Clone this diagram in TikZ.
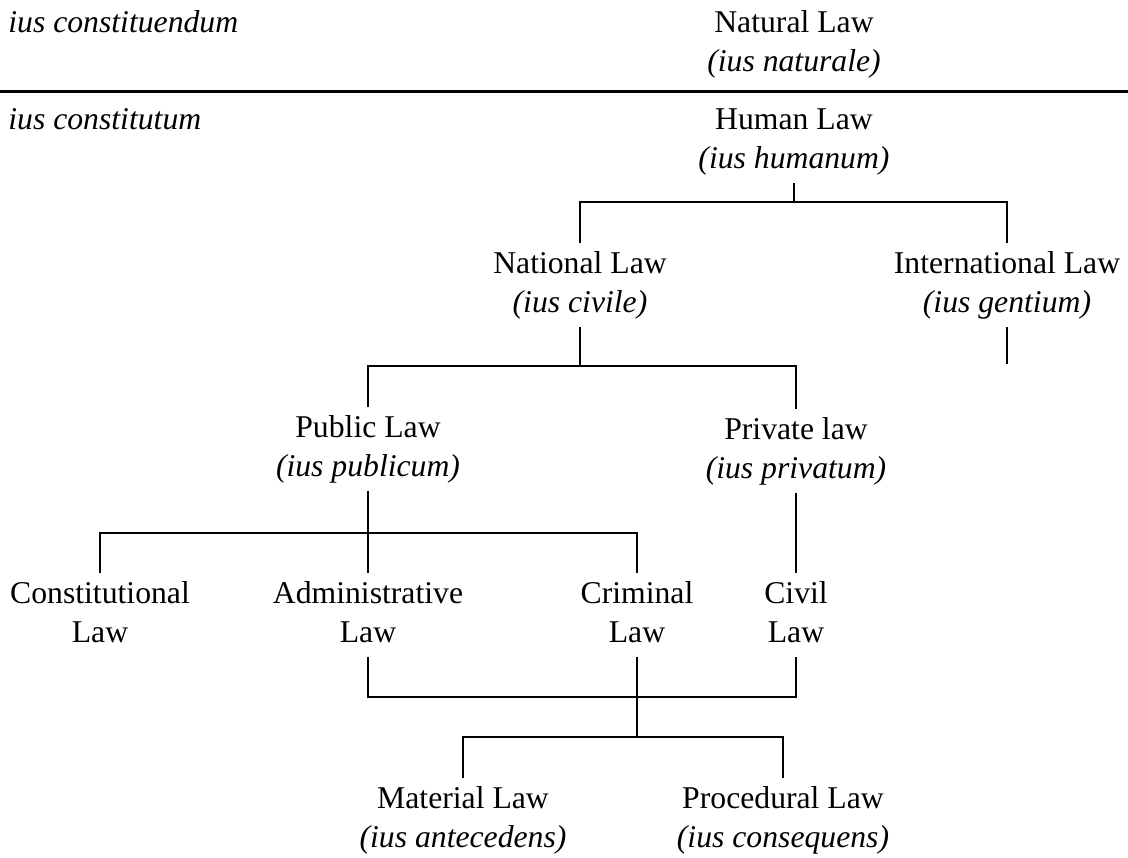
\documentclass[tikz,border=0pt]{standalone}
\usepackage{fontspec}
\setmainfont{Liberation Serif}
\usepackage{tikz}
\usetikzlibrary{positioning, calc}

\begin{document}
\begin{tikzpicture}[x=0.5pt, y=-0.5pt,
  law/.style={anchor=north, align=center, inner xsep=0pt, inner ysep=1pt,
    font=\fontsize{15.85pt}{19.75pt}\selectfont},
  tag/.style={anchor=base west, inner sep=0pt,
    font=\fontsize{15.85pt}{19.75pt}\selectfont\itshape},
  link/.style={line width=1pt, draw=black}]
  \useasboundingbox (0,0) rectangle (1128,857);
  \node[tag] (cu) at (8,32) {ius constituendum};
  \node[tag] (ct) at (8,129) {ius constitutum};
  \coordinate (rl) at (0,91);
  \coordinate (rr) at (1128,91);
  \draw[line width=1.5pt] (rl) -- (rr);
  \node[law] (nat) at (794,2) {\strut Natural Law\\\strut\textit{(ius naturale)}};
  \node[law] (hum) at (794,99) {\strut Human Law\\\strut\textit{(ius humanum)}};
  \node[law] (nal) at (580,243) {\strut National Law\\\strut\textit{(ius civile)}};
  \node[law] (int) at (1007,243) {\strut International Law\\\strut\textit{(ius gentium)}};
  \node[law] (pub) at (368,407) {\strut Public Law\\\strut\textit{(ius publicum)}};
  \node[law] (pri) at (796,409) {\strut Private law\\\strut\textit{(ius privatum)}};
  \node[law] (con) at (100,573) {\strut Constitutional\\\strut Law};
  \node[law] (adm) at (368,573) {\strut Administrative\\\strut Law};
  \node[law] (cri) at (637,573) {\strut Criminal\\\strut Law};
  \node[law] (civ) at (796,573) {\strut Civil\\\strut Law};
  \node[law] (mat) at (463,778) {\strut Material Law\\\strut\textit{(ius antecedens)}};
  \node[law] (pro) at (783,778) {\strut Procedural Law\\\strut\textit{(ius consequens)}};
  \coordinate (hbar) at (794,202);
  \coordinate (nbar) at (580,366);
  \coordinate (pbar) at (368,533);
  \coordinate (cbar) at (637,697);
  \coordinate (mbar) at (637,737);
  \coordinate (iend) at (1007,364);
  \draw[link] (hum.south) -- (hbar);
  \draw[link] (nal.north) |- (hbar) -| (int.north);
  \draw[link] (int.south) -- (iend);
  \draw[link] (nal.south) -- (nbar);
  \draw[link] (pub.north) |- (nbar) -| (pri.north);
  \draw[link] (pub.south) -- (adm.north);
  \draw[link] (con.north) |- (pbar) -| (cri.north);
  \draw[link] (pri.south) -- (civ.north);
  \draw[link] (adm.south) |- (cbar) -| (civ.south);
  \draw[link] (cri.south) -- (mbar);
  \draw[link] (mat.north) |- (mbar) -| (pro.north);
\end{tikzpicture}
\end{document}
